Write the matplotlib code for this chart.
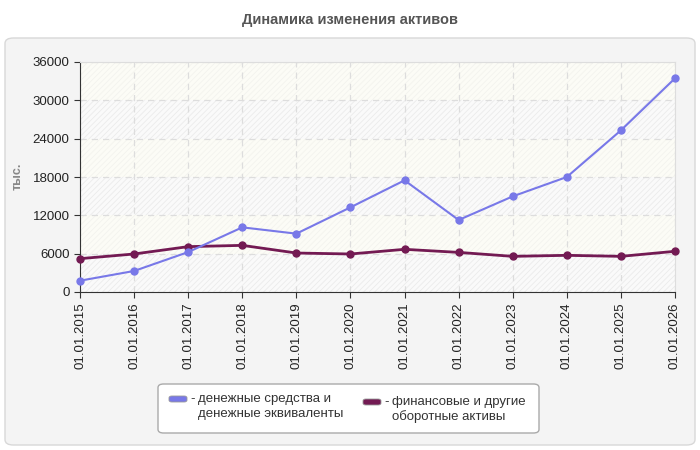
import matplotlib
matplotlib.use("Agg")
import matplotlib.pyplot as plt
from matplotlib.patches import FancyBboxPatch

plt.rcParams["font.family"] = ["Liberation Sans", "DejaVu Sans"]
plt.rcParams["hatch.linewidth"] = 0.6

# ==============================
# DATA
# ==============================
dates = ["01.01.2015", "01.01.2016", "01.01.2017", "01.01.2018", "01.01.2019",
         "01.01.2020", "01.01.2021", "01.01.2022", "01.01.2023", "01.01.2024",
         "01.01.2025", "01.01.2026"]
cash = [1770, 3290, 6250, 10120, 9130, 13250, 17480, 11270, 14970, 18000, 25300, 33450]
fin_assets = [5220, 5950, 7100, 7300, 6100, 5950, 6680, 6200, 5580, 5740, 5580, 6370]
yticks = [0, 6000, 12000, 18000, 24000, 30000, 36000]

cash_label = ["денежные средства и", "денежные эквиваленты"]
fin_label = ["финансовые и другие", "оборотные активы"]

blue = "#7878e8"
purple = "#731a53"

# ==============================
# FIGURE
# ==============================
W, H = 700, 450
fig = plt.figure(figsize=(W / 100, H / 100), dpi=100)
fig.patch.set_facecolor("white")


def fx(px):
    return px / W


def fy(py):
    return 1 - py / H


# outer panel
panel = FancyBboxPatch((fx(5), fy(445)), fx(690), 407 / H,
                       boxstyle="round,pad=0,rounding_size=0.012",
                       transform=fig.transFigure, facecolor="#f4f4f4",
                       edgecolor="#d8d8d8", linewidth=1, zorder=-5)
fig.add_artist(panel)

fig.text(fx(350), fy(20), "Динамика изменения активов", ha="center",
         va="center", fontsize=10.5, fontweight="bold", color="#555555")

ax = fig.add_axes([fx(80), fy(292), fx(595), 230 / H])
ax.set_zorder(1)
ax.set_facecolor("#fcfcf7")

# alternating hatched bands
for i in range(len(yticks) - 1):
    if i % 2 == 0:
        ax.axhspan(yticks[i], yticks[i + 1], facecolor="#fafafa",
                   edgecolor="#ebebeb", hatch="//////", linewidth=0, zorder=0)
    else:
        ax.axhspan(yticks[i], yticks[i + 1], facecolor="#fcfcf6",
                   edgecolor="#f3f3ee", hatch="//////", linewidth=0, zorder=0)

x = list(range(len(dates)))
ax.plot(x, fin_assets, color=purple, linewidth=2, marker="o", markersize=5,
        zorder=3, clip_on=False)
ax.plot(x, cash, color=blue, linewidth=1.5, marker="o", markersize=5,
        zorder=4, clip_on=False)

ax.set_xlim(0, len(dates) - 1)
ax.set_ylim(0, 36000)
ax.set_yticks(yticks)
ax.set_yticklabels([str(v) for v in yticks])
ax.set_xticks(x)
ax.set_xticklabels(dates, rotation=90)
ax.tick_params(axis="both", labelsize=9.5, colors="#333333", length=4,
               labelcolor="#222222")

ax.grid(True, color="#dddddd", linestyle=(0, (5, 4)), linewidth=0.9)
ax.set_axisbelow(True)
for side in ["top", "right"]:
    ax.spines[side].set_color("#dddddd")
ax.spines["left"].set_color("#333333")
ax.spines["bottom"].set_color("#333333")

fig.text(fx(18), fy(176), "тыс.", rotation=90, ha="center", va="center",
         fontsize=9, fontweight="bold", color="#888888")

# ==============================
# LEGEND (drawn by hand)
# ==============================
leg_box = FancyBboxPatch((fx(158), fy(433)), fx(381), 49 / H,
                         boxstyle="round,pad=0,rounding_size=0.008",
                         transform=fig.transFigure, facecolor="white",
                         edgecolor="#aaaaaa", linewidth=1, zorder=2)
fig.add_artist(leg_box)

entries = [(cash_label, blue, 169, 399), (fin_label, purple, 363, 402)]
for lines, color, left, top in entries:
    fig.add_artist(FancyBboxPatch((fx(left), fy(top + 3)), fx(18), 6 / H,
                                  boxstyle="round,pad=0,rounding_size=0.004",
                                  transform=fig.transFigure, facecolor=color,
                                  edgecolor="#999999", linewidth=0.6, zorder=3))
    fig.text(fx(left + 21), fy(top), "-", ha="left", va="center",
             fontsize=9.5, color="#333333")
    for k, line in enumerate(lines):
        fig.text(fx(left + 29), fy(top + k * 14.5), line, ha="left",
                 va="center", fontsize=9.5, color="#333333")

fig.savefig("out.png", dpi=100, facecolor=fig.get_facecolor())
